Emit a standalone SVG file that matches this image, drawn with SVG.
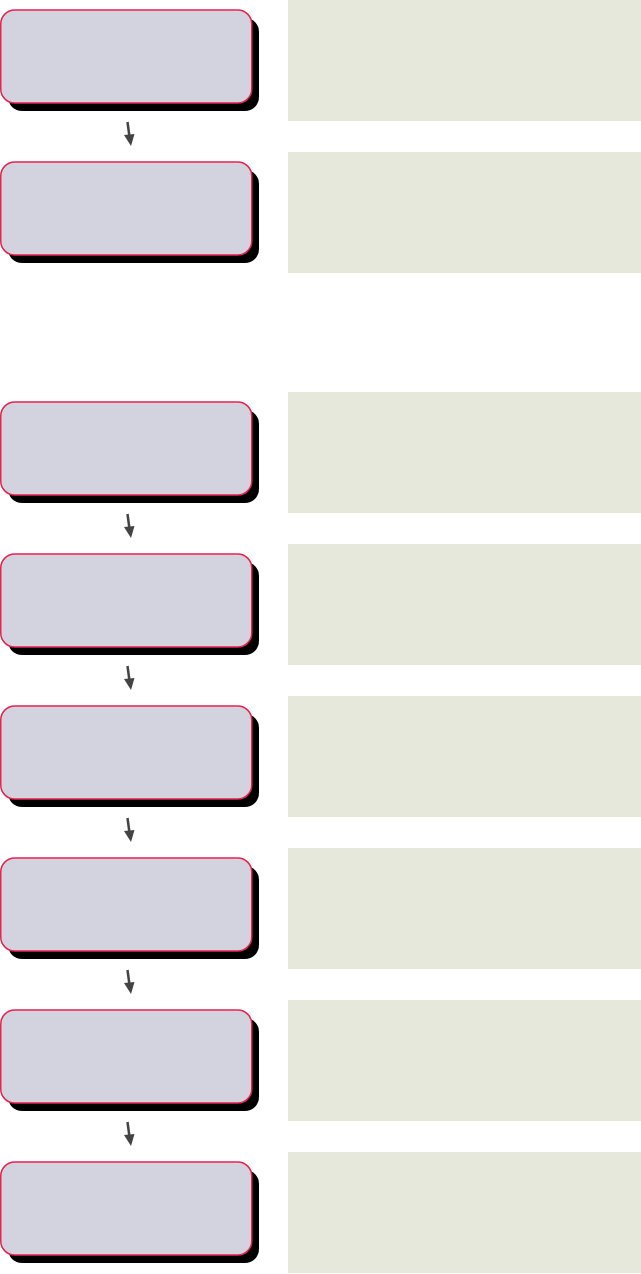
<svg xmlns="http://www.w3.org/2000/svg" width="641" height="1274" viewBox="0 0 641 1274">
<defs>
<style>
.panel{fill:#e5e8da}
.shadow{fill:#000}
.box{fill:#d3d3df;stroke:#e8234d;stroke-width:1.5}
.conn{stroke:#444;stroke-width:2.5;fill:none}
.head{fill:#444}
</style>
<g id="arrow">
<path class="conn" d="M127.5,122 L129.5,137"/>
<path class="head" d="M124,135 L134.5,134 L131,146 Z"/>
</g>
<g id="node">
<rect class="shadow" x="8" y="8" width="251" height="93" rx="14"/>
<rect class="box" x="0.75" y="0" width="251" height="93" rx="14"/>
</g>
</defs>
<rect width="641" height="1274" fill="#fff"/>
<g id="panels">
<rect class="panel" x="288" y="0" width="353" height="121"/>
<rect class="panel" x="288" y="152" width="353" height="121"/>
<rect class="panel" x="288" y="392" width="353" height="121"/>
<rect class="panel" x="288" y="544" width="353" height="121"/>
<rect class="panel" x="288" y="696" width="353" height="121"/>
<rect class="panel" x="288" y="848" width="353" height="121"/>
<rect class="panel" x="288" y="1000" width="353" height="121"/>
<rect class="panel" x="288" y="1152" width="353" height="121"/>
</g>
<g id="connectors">
<use href="#arrow" y="0"/>
<use href="#arrow" y="392"/>
<use href="#arrow" y="544"/>
<use href="#arrow" y="696"/>
<use href="#arrow" y="848"/>
<use href="#arrow" y="1000"/>
</g>
<g id="node1"><use href="#node" y="10"/></g>
<g id="node2"><use href="#node" y="162"/></g>
<g id="node3"><use href="#node" y="402"/></g>
<g id="node4"><use href="#node" y="554"/></g>
<g id="node5"><use href="#node" y="706"/></g>
<g id="node6"><use href="#node" y="858"/></g>
<g id="node7"><use href="#node" y="1010"/></g>
<g id="node8"><use href="#node" y="1162"/></g>
</svg>
